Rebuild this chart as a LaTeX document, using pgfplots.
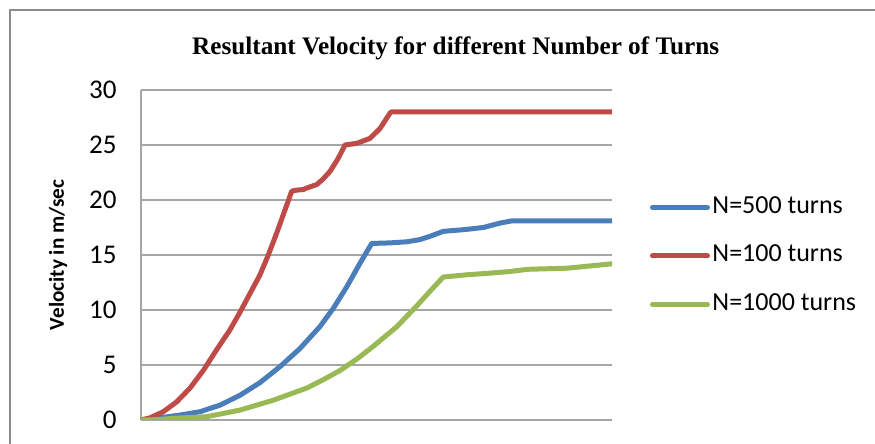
\documentclass[border=0pt]{standalone}
\usepackage{fontspec}
\setmainfont{Carlito}
\newfontfamily\titlefont{Liberation Serif}
\usepackage{pgfplots}
\pgfplotsset{compat=1.18}

\definecolor{serBlue}{HTML}{4A7EBB}
\definecolor{serRed}{HTML}{BE4B48}
\definecolor{serGreen}{HTML}{98B954}
\definecolor{gridGray}{HTML}{A6A6A6}
\definecolor{frameGray}{HTML}{8C8C8C}

\begin{document}
\begin{tikzpicture}
% page area: 437.5pt x 222pt
\useasboundingbox (0,0) rectangle (437.5pt,222pt);
\clip (0,0) rectangle (437.5pt,222pt);
% chart frame (left and top edges show)
\draw[frameGray, line width=1pt] (4.75pt,-10pt) -- (4.75pt,216.75pt) -- (450pt,216.75pt);

\begin{axis}[
  at={(70.5pt,12pt)}, anchor=south west,
  width=235.5pt, height=165pt, scale only axis,
  xmin=0, xmax=471,
  ymin=0, ymax=30,
  ytick={0,5,...,30},
  xtick=\empty,
  axis x line*=bottom, axis y line*=left,
  axis line style={-, draw=gridGray, line width=1pt},
  major tick length=0pt,
  ymajorgrids,
  grid style={gridGray, line width=1pt},
  /pgf/number format/assume math mode=true,
  yticklabel style={font=\fontsize{13.5}{14}\selectfont, inner xsep=0pt, xshift=-12pt},
  title={\titlefont\bfseries\fontsize{12.6}{13}\selectfont Resultant Velocity for different Number of Turns},
  title style={at={(axis description cs:0.668,1.091)}, anchor=center, inner sep=0pt},
  ylabel={\bfseries\fontsize{10.6}{11}\selectfont Velocity in m/sec},
  ylabel style={at={(axis description cs:-0.176,0.5)}, anchor=center, inner sep=0pt},
  legend cell align=left,
  legend style={draw=none, fill=none, at={(1.067,0.497)}, anchor=west,
    font=\fontsize{13}{13}\selectfont,
    nodes={inner xsep=1.25pt, inner ysep=0pt, text height=9pt, text depth=3pt},
    row sep=12.25pt, column sep=0pt},
  legend image code/.code={\draw[#1] (0pt,0pt) -- (27.5pt,0pt);},
  every axis plot/.append style={line width=2.5pt, line join=round, line cap=round},
]
% N = 500 turns
\addplot[serBlue] coordinates {
 (0,0) (19,0.2) (39,0.45) (59,0.75) (79,1.35) (99,2.25) (119,3.4) (139,4.85)
 (159,6.5) (179,8.5) (192.3,10.15) (205.7,12.1) (219,14.25) (230.7,16.05)
 (249,16.1) (265.7,16.2) (279,16.4) (289,16.7) (302.3,17.15) (322.3,17.3)
 (342.3,17.5) (359,17.9) (370.7,18.1) (471,18.1)
};
\addlegendentry{N=500 turns}
% N = 100 turns
\addplot[serRed] coordinates {
 (0,0) (9,0.2) (22.3,0.75) (35.7,1.65) (49,2.9) (62.3,4.5) (75.7,6.4) (89,8.2)
 (99,9.8) (109,11.5) (119,13.2) (127.3,15.0) (135.7,17.0) (144,19.1) (150.7,20.8)
 (155.7,20.9) (162.3,20.95) (166,21.1) (175.7,21.4) (182,21.9) (189,22.6)
 (197.3,23.8) (204,25.0) (215.7,25.15) (229,25.6) (239,26.5) (249,27.9)
 (250,28.0) (471,28.0)
};
\addlegendentry{N=100 turns}
% N = 1000 turns
\addplot[serGreen] coordinates {
 (0,0) (16,0.03) (32.3,0.15) (65.7,0.3) (99,0.9) (132.3,1.8) (165.7,2.9)
 (182,3.65) (199,4.5) (216,5.55) (232.3,6.7) (256,8.5) (276,10.4) (291,11.9)
 (302.3,13.0) (325.7,13.2) (349,13.35) (369,13.5) (387,13.7) (426,13.8) (471,14.2)
};
\addlegendentry{N=1000 turns}
\end{axis}
\end{tikzpicture}
\end{document}
